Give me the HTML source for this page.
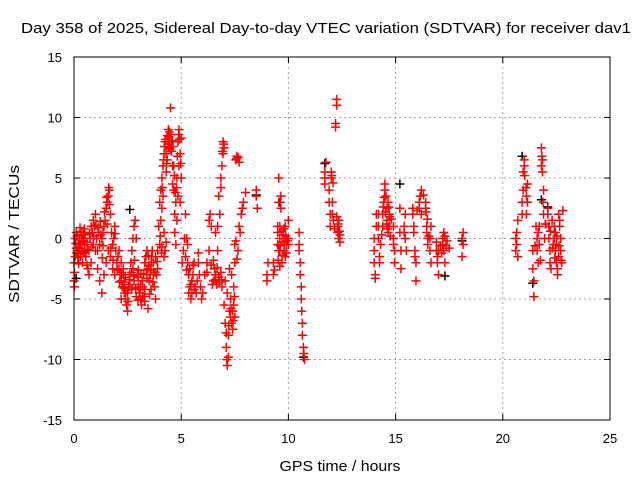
<!DOCTYPE html>
<html><head><meta charset="utf-8"><style>
body{margin:0;background:#fff}
svg{display:block;font-family:"Liberation Sans",sans-serif}
</style></head><body>
<svg id="chart" width="640" height="480" viewBox="0 0 640 480" xmlns="http://www.w3.org/2000/svg">
<rect width="640" height="480" fill="#fff"/>
<text x="326" y="33" text-anchor="middle" font-size="15" textLength="610" lengthAdjust="spacingAndGlyphs">Day 358 of 2025, Sidereal Day-to-day VTEC variation (SDTVAR) for receiver dav1</text>
<text transform="translate(19,234) rotate(-90)" text-anchor="middle" font-size="15" textLength="138" lengthAdjust="spacingAndGlyphs">SDTVAR / TECUs</text>
<text x="340" y="471" text-anchor="middle" font-size="15" textLength="121" lengthAdjust="spacingAndGlyphs">GPS time / hours</text>
<g id="grid"></g>
<g id="ticks"></g>
<g id="marks"></g>
<rect x="74" y="57" width="536" height="363" fill="none" stroke="#000" stroke-width="1"/>
</svg>
<script>
const xTicks=[0,5,10,15,20,25];
const yTicks=[-15,-10,-5,0,5,10,15];
const blackSeries=[[15.2,4.5],[20.9,6.8],[21.4,-3.7],[10.7,-9.8],[11.7,6.2],[9.6,3],[2.6,2.4],[17.3,-3.1],[8.5,3.6],[21.8,3.2],[22.1,2.6],[18.1,-0.2],[0.1,-3.3]];
const redSeries=[
[0.0,-3.5],[0.0,-2],[0.02,-4],[0.05,0],[0.1,0.5],[0.12,-1.2],[0.15,-1],[0.2,-0.5],[0.25,0],[0.3,-0.5],[0.35,-1],[0.4,0],[0.45,0.5],[0.5,-0.5],[0.55,-1.5],[0.6,-0.3],[0.65,-2.5],[0.7,-1],[0.75,0],[0.8,1],[0.85,0.5],[0.9,1.5],[0.95,1],[1.0,2],[1.05,0],[1.1,-1],[1.15,0.5],[1.2,-0.5],[1.3,0],[1.35,0.5],[1.4,1],[1.45,1.5],[1.5,2.5],[1.55,3],[1.6,3.5],[1.65,4],[1.7,2],[1.75,0.5],[1.8,-0.5],[1.85,0],[1.9,1],[1.95,-1],
[0.3,-1.5],[0.4,-2],[0.5,-1.2],[0.6,-2.2],[0.7,-3],[0.8,-2],[0.9,-0.5],[1.0,-1],[1.1,-2.5],[1.2,-3.5],[1.3,-4.5],[1.4,-3],[1.5,-2],[1.6,-1],[1.7,-1.5],[1.8,-2.5],[1.9,-3],[0.2,-1.2],[0.1,-0.8],[0.25,-0.8],[0.35,0.3],[0.45,-0.2],[1.25,0.3],[1.35,-0.6],[1.55,1.2],[1.65,2.8],
[0.05,-1.5],[0.15,0.2],[0.22,-2.1],[0.32,0.6],[0.42,-1.1],[0.52,0.3],[0.62,-0.9],[0.72,0.4],[0.82,-0.7],[0.92,0.2],[1.02,1.1],[1.12,0.9],[1.22,1.4],[1.32,-1.6],[1.42,2.2],[1.52,3.4],[1.62,4.2],[1.72,-0.8],[1.82,-1.8],[1.92,0.4],[0.02,-2.8],[0.08,-0.4],[0.18,-1.6],[0.28,0.9],[0.38,-0.3],[0.48,0.8],
[2.0,-2],[2.05,-1.5],[2.1,-2.5],[2.15,-3],[2.2,-3.5],[2.25,-4],[2.3,-3],[2.35,-4.5],[2.4,-5],[2.45,-5.5],[2.5,-6],[2.55,-4],[2.6,-3],[2.65,-2],[2.7,-1],[2.75,0],[2.8,1],[2.85,1.5],[2.9,0],[2.95,-3],[3.0,-4],[3.05,-4.5],[3.1,-5],[3.15,-5.5],[3.2,-4],[3.25,-3],[3.3,-2],[3.35,-1.5],[3.4,-1],[3.45,-2.5],[3.5,-3.5],[3.55,-3],[3.6,-2],[3.65,-1],[3.7,-2],[3.75,-4],[3.8,-5],[3.85,-3],[3.9,-1],
[2.1,-1],[2.2,-2],[2.3,-2.5],[2.4,-3.2],[2.5,-4.5],[2.6,-3.8],[2.7,-4.2],[2.8,-3.5],[2.9,-4.8],[3.0,-3.2],[3.1,-3.8],[3.2,-4.8],[3.3,-4.2],[3.4,-3.3],[3.5,-2.2],[3.6,-4.2],[3.7,-3],[3.8,-1.5],[3.9,-2.5],[3.3,-5.2],[3.45,-5.8],[2.2,-5],[2.35,-3.6],[2.75,-2.5],[3.0,-2.6],
[2.02,-2.6],[2.12,-3.6],[2.22,-2.8],[2.32,-4.1],[2.42,-4.3],[2.52,-5.2],[2.58,-3.4],[2.68,-2.8],[2.78,-3.1],[2.88,-4.1],[2.98,-5.1],[3.08,-4.2],[3.18,-3.5],[3.28,-4.8],[3.38,-2.6],[3.48,-1.4],[3.58,-2.6],[3.68,-3.6],[3.78,-2.8],[3.88,-1.9],[3.12,-2.9],[2.82,-1.8],[3.52,-4.6],[3.62,-1.5],
[3.95,1],[4.0,3],[4.05,4],[4.1,5],[4.15,6],[4.2,7],[4.25,8],[4.3,7],[4.35,8.5],[4.4,9],[4.45,8],[4.5,10.8],[4.55,8],[4.6,6],[4.65,4],[4.7,2],[4.75,3],[4.8,5],[4.85,8],[4.9,9],[4.95,7],[5.0,5],
[4.0,-0.5],[4.05,1.5],[4.1,2.5],[4.15,3.5],[4.2,0.5],[4.25,-1],[4.3,5.5],[4.35,6.5],[4.4,7.5],[4.45,8.8],[4.55,7.2],[4.6,4.5],[4.65,6],[4.7,0.5],[4.75,-0.5],[4.8,1.5],[4.85,3.5],[4.9,6],[4.95,3],[5.0,8.3],[4.3,-0.3],[4.2,-1.5],[4.1,-0.7],
[4.12,4.2],[4.18,6.5],[4.22,7.6],[4.28,8.2],[4.32,6.2],[4.38,7.8],[4.42,8.4],[4.48,7.4],[4.52,8.6],[4.58,8.1],[4.62,7.6],[4.68,5.2],[4.72,3.8],[4.78,4.2],[4.82,6.8],[4.88,8.6],[4.92,8.2],[4.98,6.2],[4.08,-1.2],[4.02,0.2],
[5.05,-2],[5.1,-1],[5.15,0],[5.2,2],[5.25,0],[5.3,-2],[5.35,-3],[5.4,-4],[5.45,-5],[5.5,-4.5],[5.55,-3],[5.6,-2],[5.65,-4],[5.7,-4.5],[5.75,-3.5],[5.8,-2],[5.85,-3],[5.9,-4],[5.95,-5],[6.0,-4.5],[5.2,-1.5],[5.3,-0.5],[5.4,-2.5],[5.5,-3.5],[5.6,-4.2],[5.8,-1.2],[5.35,-4.5],[5.45,-3.8],[5.55,-2.2],[5.25,-2.6],
[6.1,-3],[6.2,-2],[6.3,-1],[6.35,2],[6.4,1],[6.5,-3.5],[6.6,-3],[6.7,-1],[6.8,2],[6.85,5],[6.9,6],[6.95,8],[7.0,7.5],[6.4,-2.2],[6.45,-3.8],[6.55,-2.5],[6.65,-3.8],[6.75,-3.2],[6.85,-2.8],[6.9,-4],[6.3,1.5],[6.6,0.5],[6.7,1],[6.75,3.5],[6.85,4.2],[6.95,7],[6.2,-2.8],[6.5,-1.8],[6.58,-3.4],[6.68,-2.4],[6.78,-3.6],[6.88,-3.4],[6.98,7.8],[6.92,7.2],
[7.05,-7],[7.1,-9],[7.15,-10.5],[7.2,-8],[7.25,-6],[7.3,-5],[7.35,-7],[7.4,-6],[7.45,-4],[7.5,-2],[7.1,-7.8],[7.2,-9.8],[7.3,-6.5],[7.4,-7.5],[7.0,-5.5],[7.05,-3.5],[7.15,-4.5],[7.25,-2.5],[7.35,-3],[7.45,-5.5],[7.5,-6.5],[7.12,-10],[7.22,-7.2],[7.32,-5.8],[7.42,-6.8],[7.48,-4.8],
[7.55,6.5],[7.6,6.8],[7.65,-1],[7.7,1],[7.75,0.5],[7.8,2],[7.85,2.5],[7.9,3],[8.0,3.8],[7.7,6.3],[7.55,-0.2],[7.6,-1.7],[7.5,-0.5],[7.58,6.6],[7.65,6.7],
[8.5,3.5],[8.5,4],[8.55,2.5],[9.0,-3],[9.0,-3.5],[9.05,-2],[9.3,-2],[9.3,-3],[9.35,-2.6],
[9.5,-0.5],[9.5,0.5],[9.5,1],[9.55,-1],[9.55,3],[9.55,5],[9.6,-1],[9.6,0],[9.6,1],[9.65,2.5],[9.65,3.5],[9.7,-0.3],[9.75,0.3],[9.8,-0.5],[9.8,-1],[9.8,0],[9.85,1],[9.85,-1.5],[9.9,-0.5],[9.9,-1.2],[10.0,1.5],[10.0,0],[10.0,-0.5],[9.7,-2],[9.6,-2.3],[9.62,-0.6],[9.68,0.6],[9.72,-1.4],[9.78,0.8],[9.88,0.2],[9.95,-0.2],[9.52,-1.8],
[10.5,-1],[10.5,-0.5],[10.5,0.5],[10.55,-2],[10.55,-3],[10.6,-4],[10.6,-5],[10.62,-6],[10.65,-7],[10.65,-8],[10.7,-9],[10.72,-9.5],[10.75,-10],
[11.7,5],[11.7,5.5],[11.75,6.3],[11.7,4.5],[11.9,4],[11.9,3],[11.95,2],[11.95,1],[12.0,5.5],[12.0,5],[12.05,3],[12.05,2],[12.1,1.5],[12.2,9.2],[12.2,9.5],[12.25,11],[12.25,11.5],[12.3,0.5],[12.3,1],[12.35,1.5],[12.35,0],[12.4,-0.3],[12.4,0.3],[12.15,0.8],[12.25,1.8],[12.02,5.2],[12.08,4.6],[12.32,1.2],[12.38,0.6],
[14.0,-1],[14.0,-2],[14.05,-3],[14.05,-3.3],[14.0,0],[14.1,1],[14.1,2],[14.2,2],[14.2,1],[14.2,0],[14.25,-1.5],[14.25,-2],[14.3,-0.5],[14.4,1],[14.4,2],[14.45,3],[14.5,4],[14.5,4.5],[14.55,3.5],[14.6,2.5],[14.6,1.5],[14.65,0.5],[14.65,3],[14.7,2],[14.7,1],[14.35,0.3],[14.75,0.2],[14.8,1.6],[14.42,2.6],[14.48,3.4],[14.52,2.2],[14.58,1.2],[14.62,0.8],[14.68,2.6],[14.72,1.8],
[14.9,0],[14.9,-0.5],[14.95,-1],[14.95,-2],[14.9,1],[15.2,2.5],[15.2,0.5],[15.25,-1],[15.25,-2.5],[15.4,1],[15.4,0.5],[15.45,2],[15.45,0],[15.5,-1],
[15.8,2],[15.8,2.5],[15.85,1],[15.85,0.5],[15.9,-1],[15.9,-1.5],[15.95,-2],[15.95,-3.5],[16.1,2.5],[16.1,3],[16.15,3.5],[16.2,4],[16.2,2],[16.4,3],[16.4,2.5],[16.45,1],[16.45,0.5],[16.5,0],[16.5,-0.5],[16.6,-1],[16.6,0],[16.65,1],[16.65,-2],[16.0,2.3],[16.3,3.6],[16.42,2.2],[16.48,1.6],[16.55,0.2],
[16.9,-0.3],[16.9,-1],[16.95,-1.5],[16.95,-2],[17.0,-3],[17.0,-1],[17.2,-0.5],[17.2,0],[17.25,0.5],[17.25,-1],[17.3,-2],[17.3,0.2],[17.1,-0.6],[17.4,-0.2],[17.5,-0.8],[18.1,-1.5],[18.1,0],[18.15,0.5],[18.15,-0.5],[17.15,-1.2],[17.35,-0.6],
[20.6,-1],[20.6,0],[20.65,0.5],[20.65,-0.5],[20.7,-1.5],[20.7,1.5],[20.9,2],[20.9,3],[20.95,4],[20.95,5.5],[21.0,6.5],[21.0,6],[21.1,2],[21.1,3.5],[21.15,4.5],[21.15,3],[21.4,-1],[21.4,-2.5],[21.45,-3.5],[21.45,-4.8],[21.02,5.2],[21.08,4.2],
[21.6,0],[21.6,-1],[21.65,-2],[21.65,0.5],[21.7,1],[21.7,-0.5],[21.75,-1.8],[21.8,6],[21.8,7.5],[21.85,6.5],[21.85,5.5],[21.9,4],[21.9,2],[21.95,0],[21.5,-0.6],[21.55,1],[21.82,6.8],[21.88,3],[21.98,1.2],
[22.1,2.5],[22.1,2],[22.15,1],[22.15,0],[22.2,-1],[22.2,-2],[22.25,-2.5],[22.3,1.5],[22.4,1],[22.4,0],[22.45,-1],[22.45,0.5],[22.5,-0.5],[22.5,-2],[22.55,-2.5],[22.55,-3],[22.6,-1.5],[22.6,2],[22.65,1.5],[22.65,1],[22.7,0],[22.7,-1],[22.75,-2],[22.8,2.3],[22.35,-0.5],[22.0,1.2],[22.22,0.6],[22.32,-0.8],[22.42,-1.6],[22.52,0.2],[22.62,-0.6],[22.72,-1.8]
];
const X0=74,X1=610,Y0=420,Y1=57;
const xScale=h=>X0+(h-0)/(25-0)*(X1-X0);
const yScale=v=>Y0-(v+15)/30*(Y0-Y1);
const NS="http://www.w3.org/2000/svg";
const grid=document.getElementById('grid'),ticks=document.getElementById('ticks'),marks=document.getElementById('marks');
function mk(tag,attrs,parent){const e=document.createElementNS(NS,tag);for(const k in attrs)e.setAttribute(k,attrs[k]);parent.appendChild(e);return e;}
xTicks.forEach(t=>{const x=xScale(t);
 if(t>0&&t<25){const g=mk('line',{x1:x,x2:x,y1:Y1,y2:Y0,stroke:'#a0a0a0','stroke-dasharray':'2,3'},grid);
 
 }
 mk('line',{x1:x,x2:x,y1:Y0,y2:Y0-6,stroke:'#000'},ticks);mk('line',{x1:x,x2:x,y1:Y1,y2:Y1+6,stroke:'#000'},ticks);
 const l=mk('text',{x:x,y:Y0+23,'text-anchor':'middle','font-size':13},ticks);l.textContent=t;
 
 });
yTicks.forEach(t=>{const y=yScale(t);
 if(t>-15&&t<15){const g=mk('line',{x1:X0,x2:X1,y1:y,y2:y,stroke:'#a0a0a0','stroke-dasharray':'2,3'},grid);
 
 }
 mk('line',{x1:X0,x2:X0+6,y1:y,y2:y,stroke:'#000'},ticks);mk('line',{x1:X1,x2:X1-6,y1:y,y2:y,stroke:'#000'},ticks);
 const l=mk('text',{x:X0-12,y:y+5,'text-anchor':'end','font-size':13},ticks);l.textContent=t;
 
 });
function plus(d,color,name){const x=xScale(d[0]),y=yScale(d[1]);
 const p=mk('path',{d:`M${x-4.5},${y}H${x+4.5}M${x},${y-4.5}V${y+4.5}`,stroke:color,'stroke-width':1.5,fill:'none'},marks);
 
 }
blackSeries.forEach(d=>plus(d,'#000','black-point'));
redSeries.forEach(d=>plus(d,'#ff0000','red-point'));
</script>
</body></html>
